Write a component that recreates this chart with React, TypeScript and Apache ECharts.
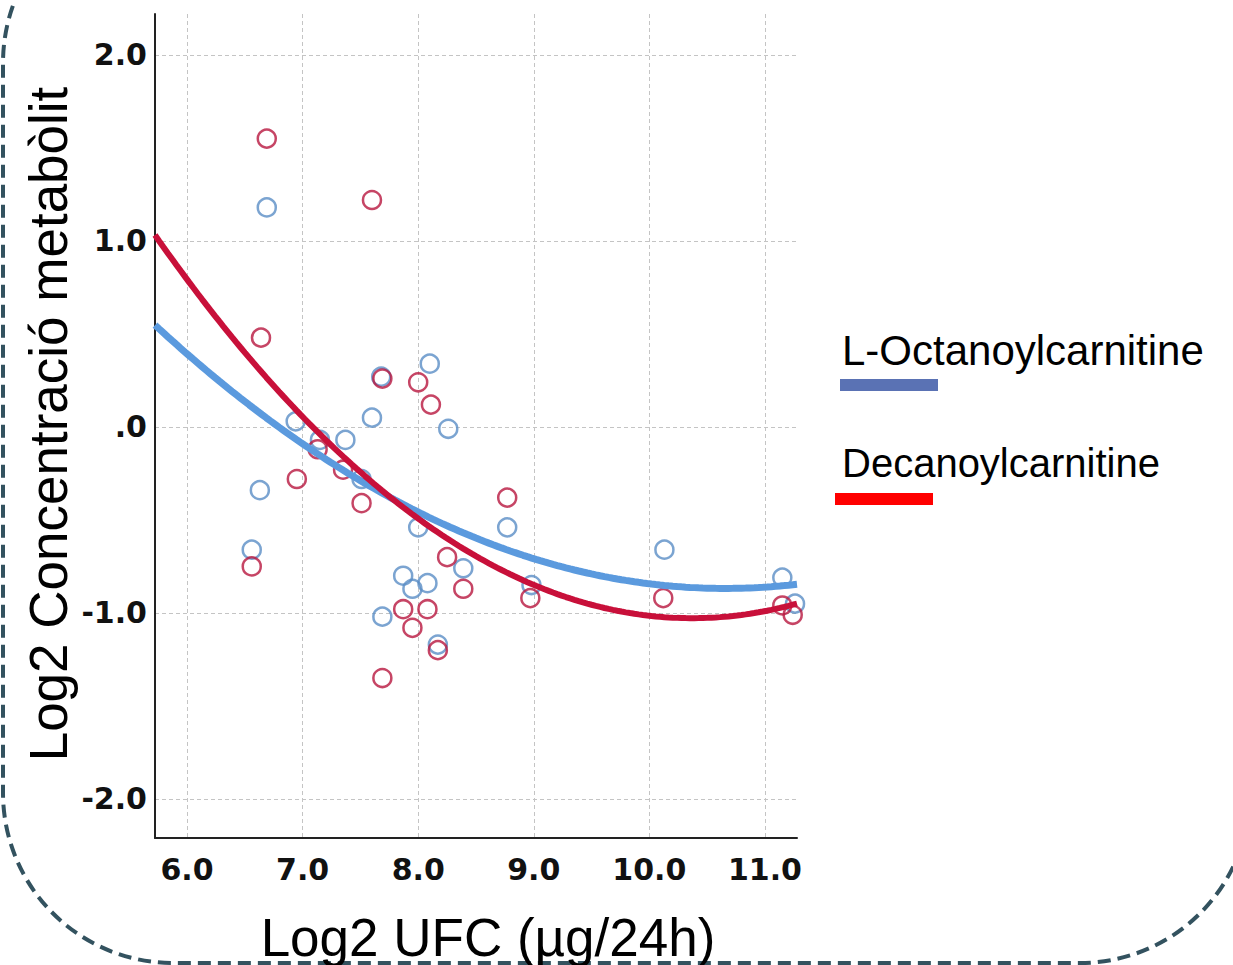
import React, { useEffect, useRef } from "react";
import * as echarts from "echarts";

// ---- data ----
const X_TICKS = [6, 7, 8, 9, 10, 11];
const Y_TICKS = [-2, -1, 0, 1, 2];
const X_MIN = 5.723;
const X_MAX = 11.277;
const Y_MIN = -2.21;
const Y_MAX = 2.22;

const SERIES_NAMES = ["L-Octanoylcarnitine", "Decanoylcarnitine"];

const octanoylX = [6.69, 6.63, 6.56, 6.94, 7.15, 7.37, 7.6, 7.51, 7.68, 8.1, 8.26, 8.0, 8.77, 7.87, 7.95, 8.08, 7.69, 8.17, 8.39, 8.98, 10.13, 11.15, 11.26];
const octanoylY = [1.18, -0.34, -0.66, 0.03, -0.07, -0.07, 0.05, -0.28, 0.27, 0.34, -0.01, -0.54, -0.54, -0.8, -0.87, -0.84, -1.02, -1.17, -0.76, -0.85, -0.66, -0.81, -0.95];

const decanoylX = [6.69, 7.6, 6.64, 7.69, 8.0, 8.11, 7.13, 7.35, 6.95, 7.51, 8.77, 8.25, 8.39, 7.87, 8.08, 7.95, 8.17, 7.69, 8.97, 10.12, 11.15, 11.24, 6.56];
const decanoylY = [1.55, 1.22, 0.48, 0.26, 0.24, 0.12, -0.12, -0.23, -0.28, -0.41, -0.38, -0.7, -0.87, -0.98, -0.98, -1.08, -1.2, -1.35, -0.92, -0.92, -0.96, -1.01, -0.75];

const X_TITLE = "Log2 UFC (µg/24h)";
const Y_TITLE = "Log2 Concentració metabòlit";

// quadratic least-squares fit of y on x
function quadFit(xs: number[], ys: number[]) {
  const n = xs.length;
  let s1 = 0, s2 = 0, s3 = 0, s4 = 0, t0 = 0, t1 = 0, t2 = 0;
  for (let i = 0; i < n; i++) {
    const x = xs[i], y = ys[i];
    s1 += x; s2 += x * x; s3 += x * x * x; s4 += x * x * x * x;
    t0 += y; t1 += x * y; t2 += x * x * y;
  }
  const A = [
    [n, s1, s2, t0],
    [s1, s2, s3, t1],
    [s2, s3, s4, t2],
  ];
  for (let c = 0; c < 3; c++) {
    let p = c;
    for (let r = c + 1; r < 3; r++) if (Math.abs(A[r][c]) > Math.abs(A[p][c])) p = r;
    [A[c], A[p]] = [A[p], A[c]];
    for (let r = 0; r < 3; r++) {
      if (r === c) continue;
      const f = A[r][c] / A[c][c];
      for (let k = c; k < 4; k++) A[r][k] -= f * A[c][k];
    }
  }
  return [A[0][3] / A[0][0], A[1][3] / A[1][1], A[2][3] / A[2][2]];
}

function fitLine(xs: number[], ys: number[]) {
  const [a, b, c] = quadFit(xs, ys);
  const pts: number[][] = [];
  const steps = 150;
  for (let i = 0; i <= steps; i++) {
    const x = X_MIN + ((X_MAX - X_MIN) * i) / steps;
    pts.push([x, a + b * x + c * x * x]);
  }
  return pts;
}

const zip = (xs: number[], ys: number[]) => xs.map((x, i) => [x, ys[i]]);

export default function App() {
  const ref = useRef<HTMLDivElement>(null);
  useEffect(() => {
    if (!ref.current) return;
    const chart = echarts.init(ref.current, null, { renderer: "svg" });
    const gridLine = { show: true, lineStyle: { color: "#c4c4c4", width: 1, type: [4, 3] as any } };
    const tickFont = { fontFamily: "DejaVu Sans", fontWeight: "bold" as const, fontSize: 30, color: "#111" };
    chart.setOption({
      animation: false,
      backgroundColor: "#ffffff",
      grid: { left: 155, top: 14, right: 436, bottom: 127, containLabel: false, outerBoundsMode: "none" },
      xAxis: {
        type: "value",
        min: X_MIN,
        max: X_MAX,
        axisLine: { show: true, onZero: false, lineStyle: { color: "#222", width: 2 } },
        axisTick: { show: false, customValues: X_TICKS },
        axisLabel: { ...tickFont, margin: 16, customValues: X_TICKS, formatter: (v: number) => v.toFixed(1) },
        splitLine: gridLine,
      },
      yAxis: {
        type: "value",
        min: Y_MIN,
        max: Y_MAX,
        axisLine: { show: true, onZero: false, lineStyle: { color: "#222", width: 2 } },
        axisTick: { show: false, customValues: Y_TICKS },
        axisLabel: {
          ...tickFont,
          margin: 8,
          customValues: Y_TICKS,
          formatter: (v: number) => (v === 0 ? ".0" : v.toFixed(1)),
        },
        splitLine: gridLine,
      },
      series: [
        {
          name: SERIES_NAMES[0],
          type: "scatter",
          data: zip(octanoylX, octanoylY),
          symbol: "circle",
          symbolSize: 18,
          itemStyle: { color: "rgba(0,0,0,0)", borderColor: "#5a8dc6", borderWidth: 2.5 },
          z: 2,
        },
        {
          name: SERIES_NAMES[1],
          type: "scatter",
          data: zip(decanoylX, decanoylY),
          symbol: "circle",
          symbolSize: 18,
          itemStyle: { color: "rgba(0,0,0,0)", borderColor: "#b8173f", borderWidth: 2.5 },
          z: 2,
        },
        {
          name: SERIES_NAMES[0] + " fit",
          type: "line",
          data: fitLine(octanoylX, octanoylY),
          showSymbol: false,
          lineStyle: { color: "#5b9ade", width: 7 },
          z: 3,
        },
        {
          name: SERIES_NAMES[1] + " fit",
          type: "line",
          data: fitLine(decanoylX, decanoylY),
          showSymbol: false,
          lineStyle: { color: "#c8103a", width: 6 },
          z: 4,
        },
      ],
      graphic: [
        {
          type: "rect",
          shape: { x: 3, y: -107, width: 1247, height: 1070, r: 170 },
          style: { fill: "none", stroke: "#33525f", lineWidth: 4, lineDash: [13, 7] },
          silent: true,
          z: 0,
        },
        {
          type: "text",
          x: 488,
          y: 937,
          style: {
            text: X_TITLE,
            fontFamily: "Liberation Sans",
            fontSize: 53,
            fill: "#000",
            align: "center",
            verticalAlign: "middle",
          },
        },
        {
          type: "text",
          x: 48,
          y: 424,
          rotation: Math.PI / 2,
          style: {
            text: Y_TITLE,
            fontFamily: "Liberation Sans",
            fontSize: 53,
            fill: "#000",
            align: "center",
            verticalAlign: "middle",
          },
        },
        {
          type: "text",
          x: 842,
          y: 350,
          style: {
            text: SERIES_NAMES[0],
            fontFamily: "Liberation Sans",
            fontSize: 42,
            fill: "#000",
            align: "left",
            verticalAlign: "middle",
          },
        },
        {
          type: "rect",
          shape: { x: 840, y: 379, width: 98, height: 12 },
          style: { fill: "#5a72b4" },
        },
        {
          type: "text",
          x: 842,
          y: 463,
          style: {
            text: SERIES_NAMES[1],
            fontFamily: "Liberation Sans",
            fontSize: 40,
            fill: "#000",
            align: "left",
            verticalAlign: "middle",
          },
        },
        {
          type: "rect",
          shape: { x: 835, y: 493, width: 98, height: 12 },
          style: { fill: "#ff0000" },
        },
      ],
    });
    return () => chart.dispose();
  }, []);
  return (
    <div
      ref={ref}
      style={{ position: "fixed", left: 0, top: 0, width: 1233, height: 965, background: "#fff" }}
    />
  );
}
